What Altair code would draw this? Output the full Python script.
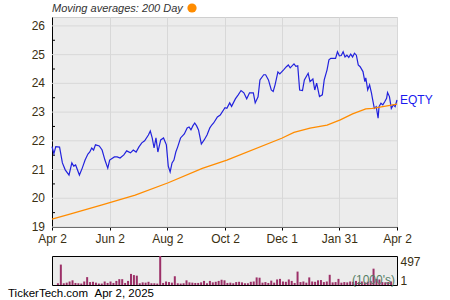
import altair as alt
import pandas as pd

start = pd.Timestamp("2024-04-02")
end = pd.Timestamp("2025-04-02")

# closing price (days after Apr 2, 2024)
price_day = [0, 2, 4, 8, 11, 14, 18, 21, 23, 25, 29, 32, 35, 38, 40, 42, 44, 46, 50, 53, 56, 59, 61, 66, 69, 72, 76, 79, 83, 86,
             89, 92, 95, 98, 102, 104, 106, 108, 110, 112, 115, 118, 121, 123, 125, 127, 129, 131, 133, 136, 140, 143, 145, 147,
             149, 151, 153, 155, 158, 161, 164, 167, 169, 171, 175, 178, 183, 185, 188, 190, 194, 197, 200, 203, 206, 209, 213,
             215, 218, 220, 224, 226, 229, 232, 234, 236, 239, 241, 245, 248, 250, 252, 256, 258, 260, 262, 265, 267, 271, 273,
             276, 278, 280, 283, 286, 288, 291, 293, 295, 298, 300, 302, 304, 306, 308, 310, 312, 314, 316, 318, 320, 322, 324,
             326, 329, 331, 332, 334, 336, 338, 339, 341, 343, 345, 346, 348, 350, 352, 354, 355, 357, 359, 361, 363, 365]
price_val = [21.80, 21.55, 21.80, 21.78, 21.23, 20.99, 20.81, 21.23, 21.12, 21.16, 20.81, 21.05, 21.33, 21.54, 21.61, 21.75,
             21.68, 21.86, 21.82, 21.68, 21.33, 21.05, 21.33, 21.44, 21.44, 21.40, 21.51, 21.65, 21.58, 21.68, 21.61, 21.79,
             21.93, 22.00, 22.20, 22.34, 22.10, 21.75, 22.10, 21.61, 22.03, 22.10, 21.86, 21.12, 20.92, 21.23, 21.33, 21.61,
             21.79, 22.10, 22.24, 22.45, 22.48, 22.38, 22.52, 22.62, 22.52, 22.38, 21.89, 22.03, 22.20, 22.45, 22.55, 22.62,
             22.83, 22.90, 23.15, 23.13, 23.32, 23.20, 23.46, 23.60, 23.75, 23.67, 23.46, 23.67, 23.67, 23.32, 23.53, 24.12,
             24.30, 24.30, 24.12, 23.77, 23.72, 23.95, 24.40, 24.33, 24.47, 24.58, 24.64, 24.54, 24.68, 24.59, 24.61, 23.77,
             23.75, 24.12, 24.35, 24.06, 24.15, 23.77, 24.01, 23.54, 23.60, 24.12, 24.47, 24.82, 24.87, 24.87, 24.87, 25.10,
             24.96, 24.97, 25.10, 24.92, 24.98, 24.90, 25.02, 24.92, 25.05, 24.98, 24.64, 24.58, 24.41, 24.06, 24.19, 23.77,
             23.95, 23.66, 23.48, 23.13, 23.19, 22.79, 23.19, 23.31, 23.25, 23.36, 23.48, 23.68, 23.54, 23.13, 23.25, 23.19,
             23.42]

# 200-day moving average
ma_day = [0, 18, 53, 88, 123, 159, 185, 243, 256, 273, 291, 305, 318, 332, 339, 353, 365]
ma_val = [19.27, 19.44, 19.77, 20.11, 20.54, 21.04, 21.33, 22.09, 22.29, 22.44, 22.55, 22.73, 22.94, 23.11, 23.13, 23.21, 23.28]

# volume in thousands, evenly spread over the year
vol_k = [30, 350, 30, 40, 60, 80, 35, 30, 25, 60,
         135, 50, 55, 40, 25, 25, 60, 35, 60, 35,
         70, 100, 100, 35, 70, 190, 170, 160, 30, 45,
         40, 55, 30, 30, 25, 497, 35, 60, 50, 40,
         150, 30, 25, 30, 80, 45, 40, 35, 35, 45,
         70, 30, 70, 45, 55, 70, 90, 80, 35, 40,
         30, 50, 55, 45, 30, 30, 55, 60, 130, 125,
         40, 50, 35, 75, 40, 95, 105, 60, 55, 95,
         70, 35, 230, 50, 60, 40, 130, 60, 55, 80,
         85, 50, 60, 175, 45, 50, 105, 40, 50, 45,
         60, 55, 70, 50, 60, 45, 55, 70, 280, 105,
         95, 50, 45, 50, 60]

tick_dates = [(2024, 4, 2), (2024, 5, 2), (2024, 6, 2), (2024, 7, 2), (2024, 8, 2), (2024, 9, 1), (2024, 10, 2),
              (2024, 11, 1), (2024, 12, 1), (2025, 1, 1), (2025, 1, 31), (2025, 3, 2), (2025, 4, 2)]
y_major = [19, 20, 21, 22, 23, 24, 25, 26]
y_minor = [19.5, 20.5, 21.5, 22.5, 23.5, 24.5, 25.5]

FONT = "Liberation Sans"
LABEL = "#3a2f12"
GRID = "#d8d8d8"
W, H = 345, 210

price_df = pd.DataFrame({"date": start + pd.to_timedelta(price_day, unit="D"), "price": price_val})
ma_df = pd.DataFrame({"date": start + pd.to_timedelta(ma_day, unit="D"), "ma": ma_val})
vol_df = pd.DataFrame({"date": pd.date_range(start + pd.Timedelta(days=1), end - pd.Timedelta(days=1),
                                             periods=len(vol_k)), "vol": vol_k})
major_df = pd.DataFrame({"v": y_major})
minor_df = pd.DataFrame({"date": [start] * len(y_minor), "v": y_minor})
last_df = price_df.tail(1)
one = pd.DataFrame({"k": [0]})

dt = lambda t: alt.DateTime(year=t[0], month=t[1], date=t[2])
xscale = alt.Scale(domain=[dt((2024, 4, 2)), dt((2025, 4, 2))], nice=False)
major = "(month(datum.value) % 2 == 1 || date(datum.value) == 31)"

xaxis = alt.Axis(
    values=[dt(t) for t in tick_dates],
    labelExpr=f"{major} ? timeFormat(datum.value, '%b %-d') : ''",
    labelFlush=False, labelOverlap=False, labelPadding=3,
    tickSize=3, tickColor="black", domainColor="black",
    grid=True, gridColor={"condition": {"test": major, "value": GRID}, "value": "transparent"},
    title=None,
)
yaxis = alt.Axis(labels=False, ticks=False, grid=False, domainColor="black", title=None)
yscale = alt.Scale(domain=[19, 26.31], nice=False, zero=False)

hgrid = alt.Chart(major_df).mark_rule(color=GRID, strokeWidth=1).encode(
    y=alt.Y("v:Q", scale=yscale, axis=yaxis), x=alt.value(0), x2=alt.value(W)
)
ylabels = alt.Chart(major_df).mark_text(align="right", baseline="middle", dx=-7, font=FONT, fontSize=12,
                                        color=LABEL).encode(
    y="v:Q", x=alt.value(0), text=alt.Text("v:Q", format="d")
)
minor = alt.Chart(minor_df).mark_rule(color="black", strokeWidth=1).encode(
    x="date:T", x2=alt.value(3), y="v:Q"
)
price = alt.Chart(price_df).mark_line(color="#2222dd", strokeWidth=1.2).encode(
    x=alt.X("date:T", scale=xscale, axis=xaxis),
    y=alt.Y("price:Q"),
)
ma = alt.Chart(ma_df).mark_line(color="#ff8c00", strokeWidth=1.3).encode(
    x="date:T", y="ma:Q"
)
eqty = alt.Chart(last_df).mark_text(align="left", baseline="middle", dx=3, font=FONT, fontSize=12,
                                    color="#1a1aee").encode(
    x="date:T", y="price:Q", text=alt.value("EQTY")
)
title = alt.Chart(one).mark_text(align="left", baseline="middle", font=FONT, fontSize=11, fontStyle="italic",
                                 color="#333333").encode(
    x=alt.value(0), y=alt.value(-8), text=alt.value("Moving averages: 200 Day")
)
dot = alt.Chart(one).mark_point(filled=True, color="#ff8c00", opacity=1, size=85).encode(
    x=alt.value(140), y=alt.value(-9)
)

main = alt.layer(hgrid, ylabels, minor, price, ma, eqty, title, dot).properties(
    width=W, height=H,
    view=alt.ViewBackground(fill="#ececec", stroke="#cfcfcf"),
)

bars = alt.Chart(vol_df).mark_bar(color="#9c3068", size=2).encode(
    x=alt.X("date:T", scale=xscale, axis=None),
    y=alt.Y("vol:Q", scale=alt.Scale(domain=[0, 497], nice=False),
            axis=alt.Axis(orient="right", values=[1, 497], ticks=False, domain=False, grid=False,
                          labelPadding=3, labelColor=LABEL, title=None, labelOverlap=False,
                          labelBaseline={"condition": {"test": "datum.value > 100", "value": "top"},
                                         "value": "alphabetic"})),
)
units = alt.Chart(one).mark_text(align="right", baseline="middle", font=FONT, fontSize=12,
                                 color="#557d64").encode(
    x=alt.value(343), y=alt.value(24), text=alt.value("(1000's)")
)
footer = alt.Chart(one).mark_text(align="left", baseline="middle", font=FONT, fontSize=11.5,
                                  color="black").encode(
    x=alt.value(-44), y=alt.value(38), text=alt.value("TickerTech.com\u00a0\u00a0Apr 2, 2025")
)
vol = alt.layer(bars, units, footer).properties(
    width=W, height=29,
    view=alt.ViewBackground(fill="#ececec", stroke="black"),
)

chart = alt.vconcat(main, vol, spacing=29, bounds="flush").properties(
    padding={"left": 7, "top": 2, "right": 5, "bottom": 0},
    background="white",
).configure_axis(
    labelFont=FONT, labelFontSize=12, labelColor=LABEL,
)

chart.save("out.html", embed_options={"renderer": "svg", "actions": False})
